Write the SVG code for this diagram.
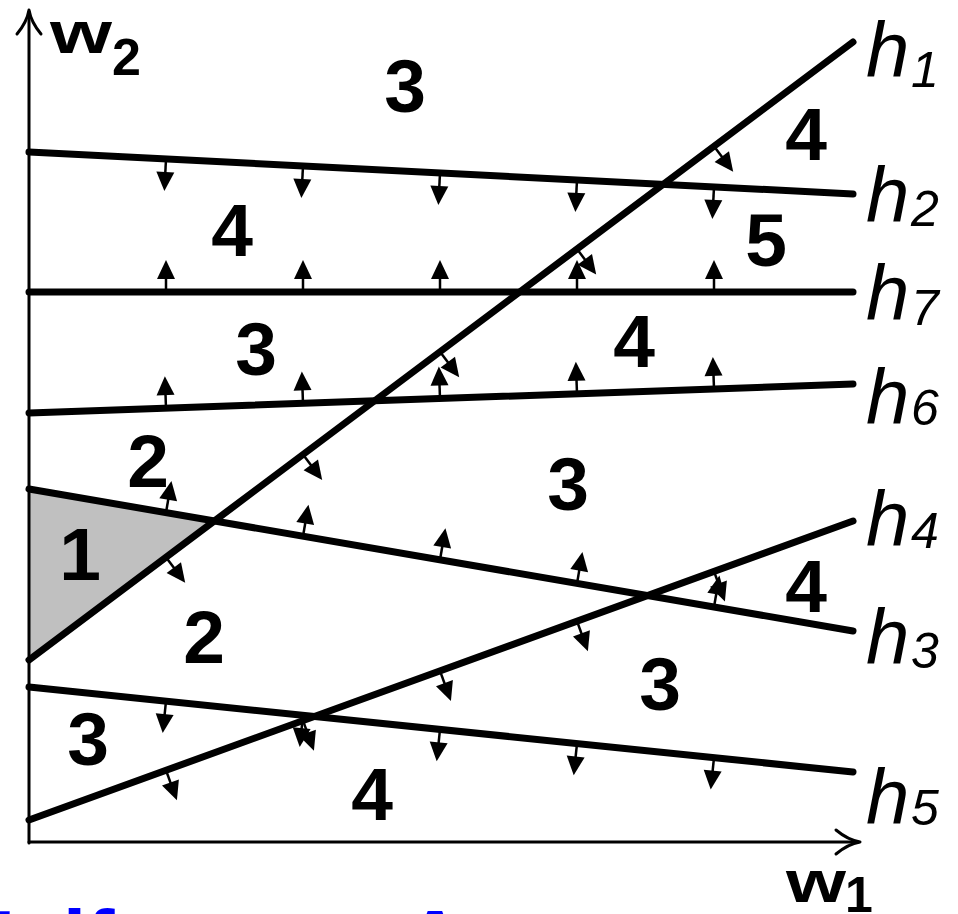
<svg xmlns="http://www.w3.org/2000/svg" xmlns:xlink="http://www.w3.org/1999/xlink" width="958" height="914" viewBox="0 0 958 914">
<style>
.bg{fill:#ffffff}
.axis{stroke:#000;stroke-width:3;fill:none;stroke-linecap:round}
.ah{stroke:#000;stroke-width:3;fill:none;stroke-linecap:round;stroke-linejoin:round}
.hl{stroke:#000;stroke-width:7;fill:none;stroke-linecap:round}
.num{font-family:"Liberation Sans",Arial,sans-serif;font-weight:bold;font-size:75px;fill:#000;text-anchor:middle}
.ax{font-family:"Liberation Sans",Arial,sans-serif;font-weight:bold;fill:#000}
.hlab{font-family:"Liberation Sans",Arial,sans-serif;font-style:italic;fill:#000}
.title{font-family:"Liberation Sans",Arial,sans-serif;font-weight:bold;font-size:85px;fill:#0000ff}
</style>
<defs>
<g id="arr">
<line x1="0" y1="0" x2="0" y2="-15" stroke="#000" stroke-width="2.5"/>
<polygon points="0,-32 -9,-13 9,-13" fill="#000"/>
</g>
</defs>
<rect class="bg" x="0" y="0" width="958" height="914"/>

<g id="region1-fill">
<polygon points="29,489 214,521 29,660" fill="#c0c0c0"/>
</g>

<g id="caption">
<text class="title" x="-46" y="970">Half-space Arrangement</text>
</g>

<g id="axes">
<line class="axis" x1="29" y1="12" x2="29" y2="843"/>
<line class="axis" x1="29" y1="842" x2="858" y2="842"/>
<path class="ah" d="M17,34 Q27,22 29,10 Q31,22 41,34"/>
<path class="ah" d="M836,830 Q848,840 860,842 Q848,844 836,854"/>
<text class="ax" x="50" y="53" font-size="60" textLength="62" lengthAdjust="spacingAndGlyphs">w</text>
<text class="ax" x="112" y="75" font-size="52">2</text>
<text class="ax" x="786" y="902" font-size="60" textLength="60" lengthAdjust="spacingAndGlyphs">w</text>
<text class="ax" x="845" y="912" font-size="50">1</text>
</g>

<g id="connectors">
<line id="h1" class="hl" x1="29" y1="660" x2="853" y2="42"/>
<line id="h2" class="hl" x1="29" y1="152" x2="853" y2="194"/>
<line id="h7" class="hl" x1="29" y1="292" x2="853" y2="292"/>
<line id="h6" class="hl" x1="29" y1="413" x2="853" y2="384"/>
<line id="h3" class="hl" x1="29" y1="489" x2="853" y2="631"/>
<line id="h4" class="hl" x1="29" y1="820" x2="853" y2="521"/>
<line id="h5" class="hl" x1="29" y1="687" x2="853" y2="772"/>
</g>

<g id="normals">
<use xlink:href="#arr" transform="translate(166,557.25) rotate(143.13)"/>
<use xlink:href="#arr" transform="translate(303,454.5) rotate(143.13)"/>
<use xlink:href="#arr" transform="translate(440,351.75) rotate(143.13)"/>
<use xlink:href="#arr" transform="translate(577,249) rotate(143.13)"/>
<use xlink:href="#arr" transform="translate(714,146.25) rotate(143.13)"/>

<use xlink:href="#arr" transform="translate(166,158.98) rotate(182.92)"/>
<use xlink:href="#arr" transform="translate(303,165.97) rotate(182.92)"/>
<use xlink:href="#arr" transform="translate(440,172.95) rotate(182.92)"/>
<use xlink:href="#arr" transform="translate(577,179.93) rotate(182.92)"/>
<use xlink:href="#arr" transform="translate(714,186.92) rotate(182.92)"/>

<use xlink:href="#arr" transform="translate(166,292)"/>
<use xlink:href="#arr" transform="translate(303,292)"/>
<use xlink:href="#arr" transform="translate(440,292)"/>
<use xlink:href="#arr" transform="translate(577,292)"/>
<use xlink:href="#arr" transform="translate(714,292)"/>

<use xlink:href="#arr" transform="translate(166,408.18) rotate(-2.02)"/>
<use xlink:href="#arr" transform="translate(303,403.36) rotate(-2.02)"/>
<use xlink:href="#arr" transform="translate(440,398.54) rotate(-2.02)"/>
<use xlink:href="#arr" transform="translate(577,393.71) rotate(-2.02)"/>
<use xlink:href="#arr" transform="translate(714,388.89) rotate(-2.02)"/>

<use xlink:href="#arr" transform="translate(166,512.61) rotate(9.78)"/>
<use xlink:href="#arr" transform="translate(303,536.22) rotate(9.78)"/>
<use xlink:href="#arr" transform="translate(440,559.83) rotate(9.78)"/>
<use xlink:href="#arr" transform="translate(577,583.44) rotate(9.78)"/>
<use xlink:href="#arr" transform="translate(714,607.05) rotate(9.78)"/>

<use xlink:href="#arr" transform="translate(166,770.29) rotate(160.06)"/>
<use xlink:href="#arr" transform="translate(303,720.58) rotate(160.06)"/>
<use xlink:href="#arr" transform="translate(440,670.86) rotate(160.06)"/>
<use xlink:href="#arr" transform="translate(577,621.15) rotate(160.06)"/>
<use xlink:href="#arr" transform="translate(714,571.44) rotate(160.06)"/>

<use xlink:href="#arr" transform="translate(166,701.13) rotate(185.89)"/>
<use xlink:href="#arr" transform="translate(303,715.27) rotate(185.89)"/>
<use xlink:href="#arr" transform="translate(440,729.40) rotate(185.89)"/>
<use xlink:href="#arr" transform="translate(577,743.53) rotate(185.89)"/>
<use xlink:href="#arr" transform="translate(714,757.66) rotate(185.89)"/>
</g>

<g id="labels">
<g id="lab-h1"><text class="hlab" x="866" y="77" font-size="78">h</text><text class="hlab" x="911" y="87" font-size="50">1</text></g>
<g id="lab-h2"><text class="hlab" x="866" y="222" font-size="78">h</text><text class="hlab" x="911" y="226" font-size="50">2</text></g>
<g id="lab-h7"><text class="hlab" x="866" y="320" font-size="78">h</text><text class="hlab" x="911" y="325" font-size="50">7</text></g>
<g id="lab-h6"><text class="hlab" x="866" y="424" font-size="78">h</text><text class="hlab" x="911" y="425" font-size="50">6</text></g>
<g id="lab-h4"><text class="hlab" x="866" y="546" font-size="78">h</text><text class="hlab" x="911" y="548" font-size="50">4</text></g>
<g id="lab-h3"><text class="hlab" x="866" y="664" font-size="78">h</text><text class="hlab" x="911" y="668" font-size="50">3</text></g>
<g id="lab-h5"><text class="hlab" x="866" y="824" font-size="78">h</text><text class="hlab" x="911" y="825" font-size="50">5</text></g>
</g>

<g id="regions">
<text class="num" x="405" y="112">3</text>
<text class="num" x="806" y="160">4</text>
<text class="num" x="232" y="256">4</text>
<text class="num" x="766" y="266">5</text>
<text class="num" x="256" y="375">3</text>
<text class="num" x="634" y="367">4</text>
<text class="num" x="148" y="487">2</text>
<text class="num" x="568" y="510">3</text>
<text class="num" x="80" y="580">1</text>
<text class="num" x="806" y="612">4</text>
<text class="num" x="204" y="663">2</text>
<text class="num" x="660" y="710">3</text>
<text class="num" x="88" y="765">3</text>
<text class="num" x="372" y="820">4</text>
</g>
</svg>
